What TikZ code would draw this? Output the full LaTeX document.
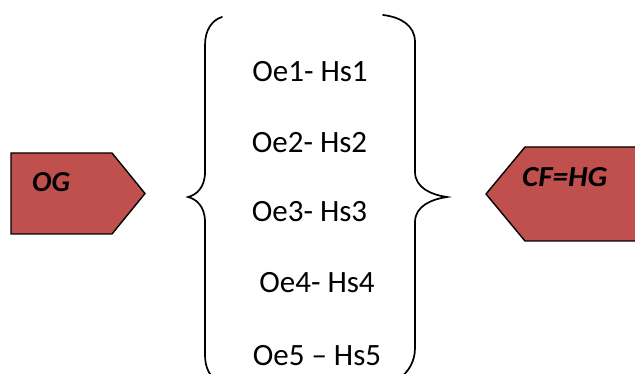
\documentclass[tikz,border=0pt]{standalone}
\usepackage{fontspec}
\setmainfont{Carlito}
\begin{document}
\begin{tikzpicture}[x=1pt,y=-1pt,
  tag/.style={fill=tagred,draw=black,line width=1.4pt,line join=miter},
  brace/.style={draw=black,line width=1.7pt,line cap=round},
  item/.style={anchor=base,inner sep=0pt,font=\fontsize{31}{31}\selectfont},
  tagtext/.style={inner sep=0pt,font=\fontsize{29}{29}\selectfont\bfseries\itshape}]
\definecolor{tagred}{HTML}{C0504D}
\clip (0,0) rectangle (635,374);
% left tag
\path[tag] (11,153) -- (112,153) -- (145,193.5) -- (112,234) -- (11,234) -- cycle;
\node[tagtext,anchor=base west] (og) at (32,192) {OG};
% right tag
\path[tag] (660,147) -- (525,147) -- (486,194) -- (525,241) -- (660,241) -- cycle;
\node[tagtext,anchor=base west,xscale=1.07] (cf) at (522,187) {CF=HG};
% braces
\draw[brace] (222,17) .. controls (212,20) and (205,30) .. (205,45)
  -- (205,172) .. controls (205,188) and (196,195) .. (188,197)
  .. controls (196,199) and (205,206) .. (205,222)
  -- (205,355) .. controls (205,368) and (210,376) .. (216,380);
\draw[brace] (383,15) .. controls (400,17) and (415,25) .. (415,42)
  -- (415,172) .. controls (415,188) and (432,195) .. (447,197)
  .. controls (432,199) and (415,206) .. (415,222)
  -- (415,348) .. controls (415,362) and (408,372) .. (400,378);
% items
\node[item] (l1) at (310,82) {Oe1- Hs1};
\node[item] (l2) at (309.5,153) {Oe2- Hs2};
\node[item] (l3) at (309.5,222) {Oe3- Hs3};
\node[item] (l4) at (317,293) {Oe4- Hs4};
\node[item] (l5) at (317,365) {Oe5 – Hs5};
\end{tikzpicture}
\end{document}
